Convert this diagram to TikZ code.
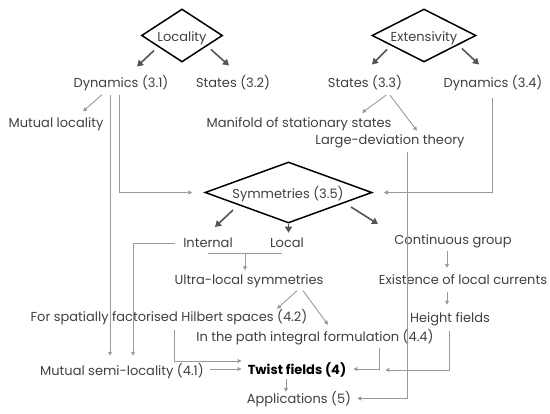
\documentclass[tikz,border=0pt]{standalone}
\usepackage{fontspec}
\setmainfont{Poppins}
\usetikzlibrary{shapes.geometric,arrows.meta,calc}
\definecolor{txtc}{HTML}{404040}
\definecolor{darkarr}{HTML}{555555}
\definecolor{lightarr}{HTML}{9A9A9A}
\begin{document}
\begin{tikzpicture}[x=1pt,y=-1pt,
  txt/.style={font=\fontsize{13}{15}\selectfont, text=txtc, inner sep=1pt, text height=9.5pt, text depth=2.5pt},
  dia/.style={draw=black, line width=1.5pt, shape=diamond, inner sep=0pt, line join=miter},
  darr/.style={draw=darkarr, line width=1.6pt, -{Triangle[length=6pt,width=7pt]}},
  larr/.style={draw=lightarr, line width=0.9pt, -{Triangle[length=4pt,width=4pt]}},
  lline/.style={draw=lightarr, line width=0.9pt}]
\useasboundingbox (0,0) rectangle (550,414);
% diamonds
\node[dia, minimum width=81pt, minimum height=53pt] (loc) at (182,35.5) {};
\node[txt] (loct) at (182,38) {Locality};
\node[dia, minimum width=104pt, minimum height=53pt] (ext) at (424,35.5) {};
\node[txt] (extt) at (424,38) {Extensivity};
\node[dia, minimum width=167pt, minimum height=61pt] (sym) at (288.5,192.5) {};
\node[txt] (symt) at (288,195) {Symmetries (3.5)};
% text nodes
\node[txt] (dyn31) at (121,84.5) {Dynamics (3.1)};
\node[txt] (st32) at (233,84.5) {States (3.2)};
\node[txt] (st33) at (365,84.5) {States (3.3)};
\node[txt] (dyn34) at (493,84.5) {Dynamics (3.4)};
\node[txt] (mutloc) at (56,124.5) {Mutual locality};
\node[txt] (manif) at (299,124.5) {Manifold of stationary states};
\node[txt] (largedev) at (390,141.5) {Large-deviation theory};
\node[txt] (internal) at (208,244.5) {Internal};
\node[txt] (local) at (287,244.5) {Local};
\node[txt] (contg) at (453,241.5) {Continuous group};
\node[txt] (ultra) at (249,281.5) {Ultra-local symmetries};
\node[txt] (exist) at (463,281.5) {Existence of local currents};
\node[txt] (forsp) at (169,318.5) {For spatially factorised Hilbert spaces (4.2)};
\node[txt] (height) at (450,319.5) {Height fields};
\node[txt] (path) at (315,338.5) {In the path integral formulation (4.4)};
\node[txt] (msl) at (122,372) {Mutual semi-locality (4.1)};
\node[txt, font=\fontsize{13}{15}\selectfont\bfseries, text=black] (twist) at (297,371) {Twist fields (4)};
\node[txt] (appl) at (299,400) {Applications (5)};
% dark arrows
\draw[darr] ($(loc)+(-28,15)$) -- ($(loc)+(-45,31)$);
\draw[darr] ($(loc)+(29,14)$) -- ($(loc)+(47,30)$);
\draw[darr] ($(ext)+(-37,14)$) -- ($(ext)+(-52,29)$);
\draw[darr] ($(ext)+(38,13)$) -- ($(ext)+(55,29)$);
\draw[darr] ($(sym)+(-55.5,17.5)$) -- ($(sym)+(-73.5,34.5)$);
\draw[darr] (sym.south) -- ++(0,9);
\draw[darr] ($(sym)+(62.5,14.5)$) -- ($(sym)+(89.5,31.5)$);
% light connectors
\draw[larr] ($(dyn31.south)+(-19,3)$) -- ($(mutloc.north)+(27,-6)$);
\draw[larr] ($(dyn31.south)+(-11,3)$) -- ($(msl.north)+(-12,-9)$);
\draw[larr, shorten >=12pt] ($(dyn31.south)+(-2,3)$) |- (sym.west);
\draw[larr, shorten >=11pt] ($(dyn34.south)+(-1,6)$) |- (sym.east);
\draw[larr] ($(st33.south)+(21,3.5)$) -- ($(manif.north)+(63,-4.5)$);
\draw[larr] ($(st33.south)+(25,3.5)$) -- ($(largedev.north)+(27,-3.5)$);
\draw[larr] ($(largedev.south)+(17,3)$) |- ($(appl.east)+(5,-1.5)$);
\draw[larr] ($(internal.west)+(-7,-1.5)$) -| ($(msl.north)+(11,-9)$);
\draw[lline] ($(internal.south)+(0,1.5)$) -- ($(local.south)+(-5,1.5)$);
\draw[larr] ($(internal.south)+(37,1.5)$) -- ($(ultra.north)+(-4,-4)$);
\draw[larr] ($(ultra.south)+(48,2)$) -- ($(forsp.north)+(108,-2.5)$);
\draw[larr] ($(ultra.south)+(54,2)$) -- ($(path.north)+(13,-6.5)$);
\draw[larr] ($(forsp.south)+(5,4)$) |- ($(twist.west)+(-5,-10)$);
\draw[larr] ($(msl.east)+(5,-3)$) -- ($(twist.west)+(-5,-2)$);
\draw[larr] ($(path.south)+(64,2)$) |- ($(twist.east)+(6,-2)$);
\draw[larr] ($(height.south)+(-1,4)$) |- ($(twist.east)+(38,-1)$);
\draw[larr] ($(twist.south)+(-11,1)$) -- ($(appl.north)+(-13,-1)$);
\draw[larr] ($(contg.south)+(-6,2.5)$) -- ($(exist.north)+(-16,-6.5)$);
\draw[larr] ($(exist.south)+(-16,3.5)$) -- ($(height.north)+(-3,-7.5)$);
\end{tikzpicture}
\end{document}
